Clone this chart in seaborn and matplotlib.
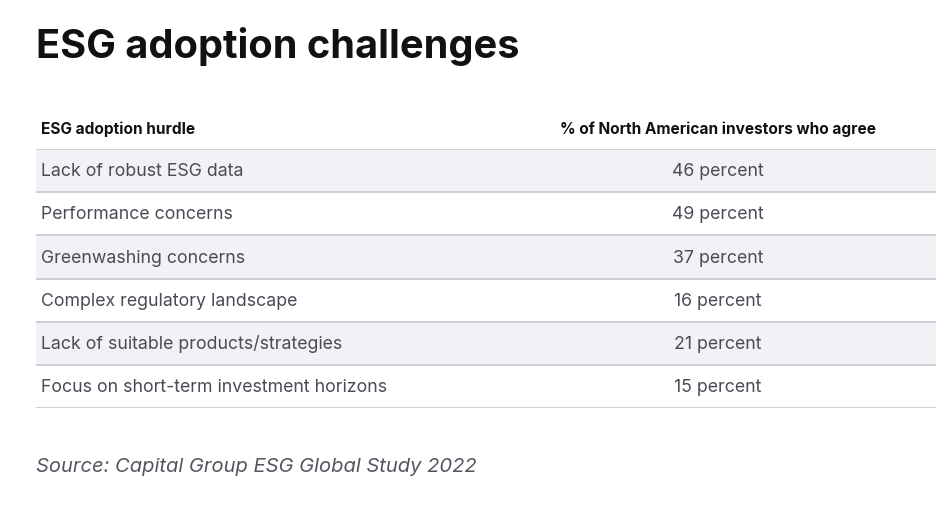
import matplotlib
matplotlib.use("Agg")
import matplotlib.pyplot as plt
import seaborn as sns
import pandas as pd

title = "ESG adoption challenges"
col_headers = ["ESG adoption hurdle", "% of North American investors who agree"]
hurdles = [
    "Lack of robust ESG data",
    "Performance concerns",
    "Greenwashing concerns",
    "Complex regulatory landscape",
    "Lack of suitable products/strategies",
    "Focus on short-term investment horizons",
]
agree_pct = [46, 49, 37, 16, 21, 15]
source = "Source: Capital Group ESG Global Study 2022"

sns.set_theme(style="white")
FONT = "Inter"
plt.rcParams["font.family"] = [FONT, "DejaVu Sans"]

W, H = 936, 505
fig = plt.figure(figsize=(W / 100, H / 100), dpi=100)
fig.patch.set_facecolor("white")

left_px, right_px, top_px, bot_px = 36, 936, 149, 408
ax = fig.add_axes([left_px / W, 1 - bot_px / H, (right_px - left_px) / W, (bot_px - top_px) / H])

shade = "#F1F2F6"
df = pd.DataFrame({"hurdle": hurdles, "full": [1.0] * len(hurdles),
                   "band": ["shaded" if i % 2 == 0 else "plain" for i in range(len(hurdles))]})
sns.barplot(data=df, y="hurdle", x="full", hue="band", palette={"shaded": shade, "plain": "white"},
            width=1.0, dodge=False, legend=False, ax=ax, linewidth=0, saturation=1)

ax.set_xlim(0, 1)
ax.set_ylim(len(hurdles) - 0.5, -0.5)
for i in range(len(hurdles) + 1):
    ax.axhline(i - 0.5, color="#C9CBD6", lw=1.3, zorder=3)

x_text = (41 - left_px) / (right_px - left_px)
x_pct = (718 - left_px) / (right_px - left_px)
body_color = "#4B4B57"
base_off = 0.13
for i, (h, v) in enumerate(zip(hurdles, agree_pct)):
    ax.text(x_text, i + base_off, h, ha="left", va="baseline", fontsize=12.75, color=body_color, zorder=4)
    ax.text(x_pct, i + base_off, f"{v} percent", ha="center", va="baseline", fontsize=12.75,
            color=body_color, zorder=4)

ax.text(x_text, -1.0 + 0.15, col_headers[0], ha="left", va="baseline", fontsize=11.1, fontweight="bold",
        color="#111111", clip_on=False)
ax.text(x_pct, -1.0 + 0.15, col_headers[1], ha="center", va="baseline", fontsize=11.1, fontweight="bold",
        color="#111111", clip_on=False)

ax.set_xlabel("")
ax.set_ylabel("")
ax.set_xticks([])
ax.set_yticks([])
for s in ax.spines.values():
    s.set_visible(False)

fig.text(36 / W, 1 - 58 / H, title, ha="left", va="baseline", fontsize=28.6, fontweight="bold", color="#111111")
fig.text(36 / W, 1 - 472 / H, source, ha="left", va="baseline", fontsize=14.5, style="italic", color="#555560")

fig.savefig("out.png", dpi=100, facecolor="white")
